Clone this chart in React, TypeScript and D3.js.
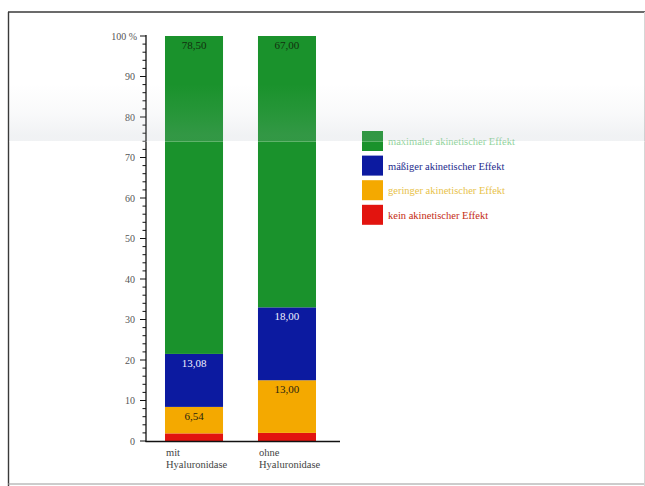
import React from "react";
import * as d3 from "d3";

// Stacked shares (%) per group, bottom to top
const categories = ["mit|Hyaluronidase", "ohne|Hyaluronidase"];
const seriesNames = [
  "kein akinetischer Effekt",
  "geringer akinetischer Effekt",
  "mäßiger akinetischer Effekt",
  "maximaler akinetischer Effekt",
];
const keinValues = [1.88, 2.0];
const geringerValues = [6.54, 13.0];
const maessigerValues = [13.08, 18.0];
const maximalerValues = [78.5, 67.0];
const yTicks = [0, 10, 20, 30, 40, 50, 60, 70, 80, 90, 100];

const colors = ["#e2140f", "#f4a900", "#0c1aa0", "#1a922c"];
const labelColors = ["#1d2a12", "#2a2410", "#f0f0ff", "#12300e"];
const legendTextColors = ["#c42a12", "#e8c24a", "#1c2a8c", "#8fd39a"];

const W = 645;
const H = 486;
const serif = "Liberation Serif, DejaVu Serif, serif";

export default function App() {
  const y = d3.scaleLinear().domain([0, 100]).range([441, 36]);
  const x = d3
    .scaleBand()
    .domain(categories)
    .range([146.4, 334.6])
    .paddingInner(0.376)
    .paddingOuter(0.2);
  const minorTicks = d3.range(0, 100.01, 2);

  const rows = categories.map((c, i) => ({
    cat: c,
    v0: keinValues[i],
    v1: geringerValues[i],
    v2: maessigerValues[i],
    v3: maximalerValues[i],
  }));
  const stack = d3.stack<any>().keys(["v0", "v1", "v2", "v3"]);
  const layers = stack(rows);

  const legendOrder = [3, 2, 1, 0];

  return (
    <svg
      width={W}
      height={H}
      style={{ position: "absolute", left: 0, top: 0, background: "#fff" }}
    >
      <defs>
        <linearGradient id="haze" x1="0" y1="0" x2="0" y2="1">
          <stop offset="0" stopColor="#b4bcc6" stopOpacity="0" />
          <stop offset="0.5" stopColor="#b4bcc6" stopOpacity="0.08" />
          <stop offset="0.9" stopColor="#aab3be" stopOpacity="0.17" />
          <stop offset="1" stopColor="#aab3be" stopOpacity="0.17" />
        </linearGradient>
      </defs>

      {/* page frame */}
      <line x1={8} y1={12} x2={W} y2={12} stroke="#3a3a3a" strokeWidth={1.6} />
      <line x1={8.5} y1={12} x2={8.5} y2={H} stroke="#3a3a3a" strokeWidth={1.4} />
      <line x1={8} y1={484} x2={W} y2={484} stroke="#9a9a9a" strokeWidth={1.2} />
      <line x1={644.5} y1={12} x2={644.5} y2={H} stroke="#d6d6d6" strokeWidth={1} />

      {/* stacked bars */}
      {layers.map((layer, li) => (
        <g key={li}>
          {layer.map((d: any, i) => (
            <rect
              key={i}
              x={x(categories[i])}
              width={x.bandwidth()}
              y={y(d[1])}
              height={y(d[0]) - y(d[1])}
              fill={colors[li]}
            />
          ))}
        </g>
      ))}

      {/* value labels near each segment top */}
      {layers.map((layer, li) =>
        li === 0
          ? null
          : layer.map((d: any, i) => {
              const v = d[1] - d[0];
              return (
                <text
                  key={`${li}-${i}`}
                  x={(x(categories[i]) as number) + x.bandwidth() / 2}
                  y={y(d[1]) + 13}
                  textAnchor="middle"
                  fontFamily={serif}
                  fontSize={11}
                  fill={labelColors[li]}
                >
                  {v.toFixed(2).replace(".", ",")}
                </text>
              );
            })
      )}

      {/* y axis */}
      <line x1={146} y1={35} x2={146} y2={442} stroke="#111" strokeWidth={1.3} />
      <line x1={145.5} y1={441.5} x2={340} y2={441.5} stroke="#111" strokeWidth={1.3} />
      {minorTicks.map((t) => (
        <line
          key={t}
          x1={t % 10 === 0 ? 140 : 142.5}
          x2={146}
          y1={y(t)}
          y2={y(t)}
          stroke="#111"
          strokeWidth={1}
        />
      ))}
      {yTicks.map((t) => (
        <text
          key={t}
          x={t === 100 ? 137 : 135}
          y={y(t) + 3.5}
          textAnchor="end"
          fontFamily={serif}
          fontSize={10}
          fill="#555"
        >
          {t === 100 ? "100 %" : t}
        </text>
      ))}

      {/* category labels */}
      {categories.map((c) => {
        const [l1, l2] = c.split("|");
        const x0 = (x(c) as number) + 1;
        return (
          <text key={c} fontFamily={serif} fontSize={10.5} fill="#444">
            <tspan x={x0} y={456}>
              {l1}
            </tspan>
            <tspan x={x0} y={468}>
              {l2}
            </tspan>
          </text>
        );
      })}

      {/* legend */}
      {legendOrder.map((si, k) => (
        <g key={si} transform={`translate(362, ${131 + k * 24.6})`}>
          <rect width={21} height={20} fill={colors[si]} />
          <text
            x={26}
            y={14}
            fontFamily={serif}
            fontSize={10.5}
            fill={legendTextColors[si]}
          >
            {seriesNames[si]}
          </text>
        </g>
      ))}

      {/* show-through band from the facing page */}
      <rect x={9} y={84} width={W - 9} height={57} fill="url(#haze)" />
      <line x1={9} y1={141.5} x2={W} y2={141.5} stroke="#ffffff" strokeOpacity={0.3} strokeWidth={1} />
    </svg>
  );
}
